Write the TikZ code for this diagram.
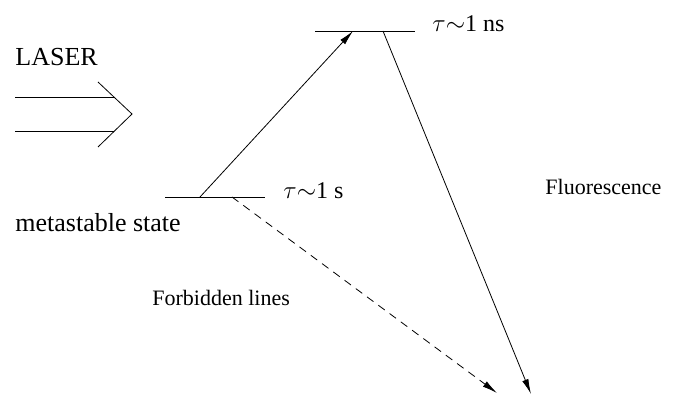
\documentclass[tikz,border=0pt]{standalone}
\usepackage{fontspec}
\setmainfont{Liberation Serif}
\newfontfamily\timesfam{Liberation Serif}
\usetikzlibrary{arrows.meta}
\begin{document}
\begin{tikzpicture}[x=1pt,y=-1pt,line width=0.8pt,
  big/.style={font=\timesfam\fontsize{26}{30}\selectfont,anchor=base west,inner sep=0pt},
  small/.style={font=\timesfam\fontsize{22}{26}\selectfont,anchor=base west,inner sep=0pt},
  tau/.style={font=\timesfam\fontsize{24}{28}\selectfont,anchor=base west,inner sep=0pt},
  tipped/.style={-{Latex[length=15pt,width=6.5pt]}}]
\useasboundingbox (0,0) rectangle (673,395);
% levels
\coordinate (u1) at (315,31); \coordinate (u2) at (415,31);
\coordinate (l1) at (165,197); \coordinate (l2) at (265,197);
\draw (u1) -- (u2);
\draw (l1) -- (l2);
% transitions
\coordinate (a) at (200,197); \coordinate (b) at (353,31);
\coordinate (c) at (383,31); \coordinate (d) at (531,394);
\coordinate (e) at (232,197); \coordinate (f) at (497,393);
\draw[tipped] (a) -- (b);
\draw[tipped] (c) -- (d);
\draw[tipped,dash pattern=on 8pt off 6pt] (e) -- (f);
% laser arrow
\coordinate (s1) at (15,97); \coordinate (t1) at (114,97);
\coordinate (s2) at (15,131); \coordinate (t2) at (114,131);
\coordinate (ch1) at (98,82); \coordinate (tip) at (132,114); \coordinate (ch2) at (98,147);
\draw (s1) -- (t1);
\draw (s2) -- (t2);
\draw (ch1) -- (tip) -- (ch2);
% labels
\node[big] (laser) at (15,66) {LASER};
\node[big] (meta) at (15,232) {metastable state};
\node[tau] (tns) at (432,32) {$\tau{\sim}$1 ns};
\node[tau] (ts) at (283,199) {$\tau{\sim}$1 s};
\node[small] (fl) at (545,195) {Fluorescence};
\node[small] (fb) at (152,306) {Forbidden lines};
\end{tikzpicture}
\end{document}
